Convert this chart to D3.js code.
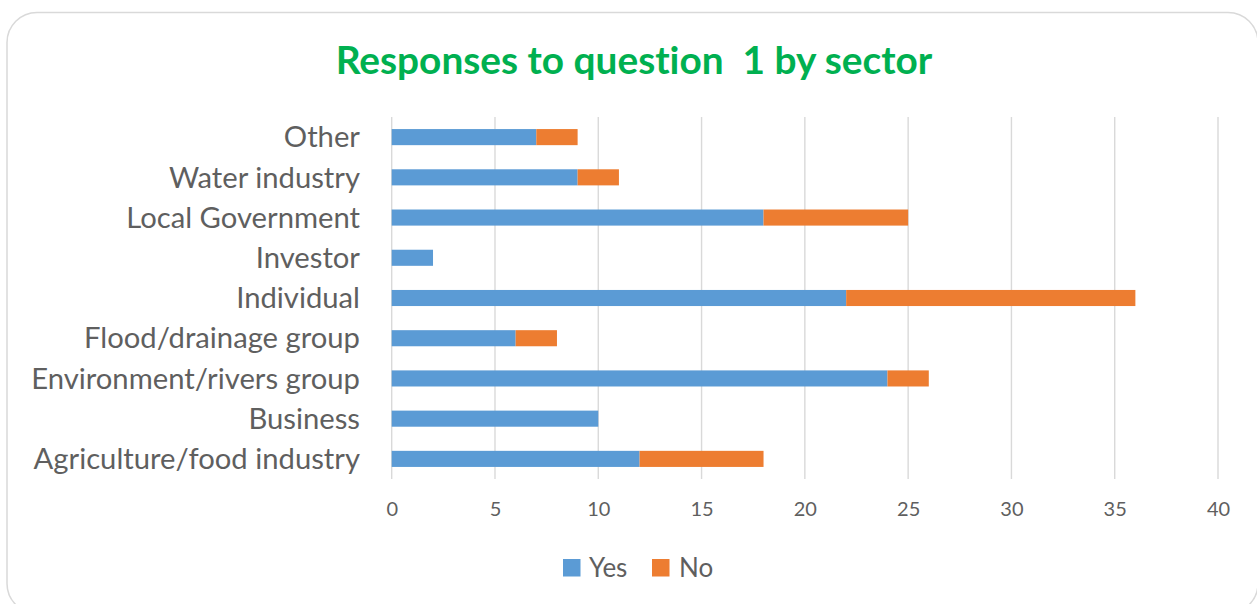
<!DOCTYPE html>
<html>
<head>
<meta charset="utf-8">
<script src="https://cdn.jsdelivr.net/npm/d3@7"></script>
<style>
  html, body { margin: 0; padding: 0; background: #fff; }
  svg { display: block; }
  text { font-variant-ligatures: none; font-feature-settings: "liga" 0; }
</style>
</head>
<body>
<svg id="chart" width="1257" height="604"></svg>
<script>
// Data
const categories = ["Agriculture/food industry", "Business", "Environment/rivers group", "Flood/drainage group", "Individual", "Investor", "Local Government", "Water industry", "Other"];
const yesValues = [12, 10, 24, 6, 22, 2, 18, 9, 7];
const noValues  = [6, 0, 2, 2, 14, 0, 7, 2, 2];
const seriesNames = ["Yes", "No"];
const seriesColors = ["#5b9bd5", "#ed7d31"];
const xTicks = [0, 5, 10, 15, 20, 25, 30, 35, 40];
const titleText = "Responses to question  1 by sector";

const FONT = "Lato, 'Open Sans', sans-serif";
const TEXT = "#5f5f5f";
const GRID = "#d9d9d9";

const svg = d3.select("#chart");

// frame
svg.append("rect")
  .attr("x", 7).attr("y", 12.5)
  .attr("width", 1251).attr("height", 601)
  .attr("rx", 30).attr("ry", 30)
  .attr("fill", "#fff").attr("stroke", GRID).attr("stroke-width", 1.5);

const x = d3.scaleLinear().domain([0, 40]).range([391.7, 1218]);
const y = d3.scaleBand().domain(categories.slice().reverse()).range([117, 479])
  .paddingInner(0.6).paddingOuter(0.3);

// gridlines
svg.append("g").selectAll("line").data(xTicks).join("line")
  .attr("x1", d => x(d)).attr("x2", d => x(d))
  .attr("y1", 117).attr("y2", 479)
  .attr("stroke", GRID).attr("stroke-width", 1.4);

// stacked data
const rows = categories.map((c, i) => ({ cat: c, Yes: yesValues[i], No: noValues[i] }));
const stack = d3.stack().keys(seriesNames)(rows);

svg.append("g").selectAll("g").data(stack).join("g")
  .attr("fill", (d, i) => seriesColors[i])
  .selectAll("rect").data(d => d.filter(s => s[1] - s[0] > 0)).join("rect")
  .attr("x", d => x(d[0]))
  .attr("width", d => x(d[1]) - x(d[0]))
  .attr("y", d => y(d.data.cat))
  .attr("height", y.bandwidth());

// x axis tick labels
const xAxis = d3.axisBottom(x).tickValues(xTicks).tickSize(0).tickPadding(0);
const gx = svg.append("g").attr("transform", "translate(0,509)").call(xAxis);
gx.select(".domain").remove();
gx.selectAll("text")
  .attr("fill", TEXT).attr("font-family", FONT).attr("font-size", 20)
  .attr("dy", "0.35em").attr("y", 0);

// y axis labels
const yAxis = d3.axisLeft(y).tickSize(0).tickPadding(0);
const gy = svg.append("g").attr("transform", "translate(360,0)").call(yAxis);
gy.select(".domain").remove();
gy.selectAll("text")
  .attr("fill", TEXT).attr("font-family", FONT).attr("font-size", 25)
  .attr("dy", "0.35em").attr("x", 0);

// fit category label size to reference width of longest label
(function fitLabels() {
  let maxW = 0;
  gy.selectAll("text").each(function () { maxW = Math.max(maxW, this.getComputedTextLength()); });
  const target = 329;
  const fs = 25 * target / maxW;
  gy.selectAll("text").attr("font-size", fs);
})();

// title
const title = svg.append("text")
  .attr("x", 634).attr("y", 60)
  .attr("text-anchor", "middle").attr("dy", "0.35em")
  .attr("fill", "#00b050").attr("font-family", FONT)
  .attr("font-weight", "bold").attr("font-size", 34)
  .style("white-space", "pre")
  .text(titleText);
(function fitTitle() {
  const w = title.node().getComputedTextLength();
  title.attr("font-size", 34 * 597 / w);
})();

// legend
const legend = svg.append("g");
const legendItems = [
  { name: seriesNames[0], color: seriesColors[0], sx: 563, tx: 589 },
  { name: seriesNames[1], color: seriesColors[1], sx: 652, tx: 679 }
];
legend.selectAll("rect").data(legendItems).join("rect")
  .attr("x", d => d.sx).attr("y", 559)
  .attr("width", 17.5).attr("height", 17.5)
  .attr("fill", d => d.color);
legend.selectAll("text").data(legendItems).join("text")
  .attr("x", d => d.tx).attr("y", 568).attr("dy", "0.35em")
  .attr("fill", TEXT).attr("font-family", FONT).attr("font-size", 26)
  .text(d => d.name);
</script>
</body>
</html>
